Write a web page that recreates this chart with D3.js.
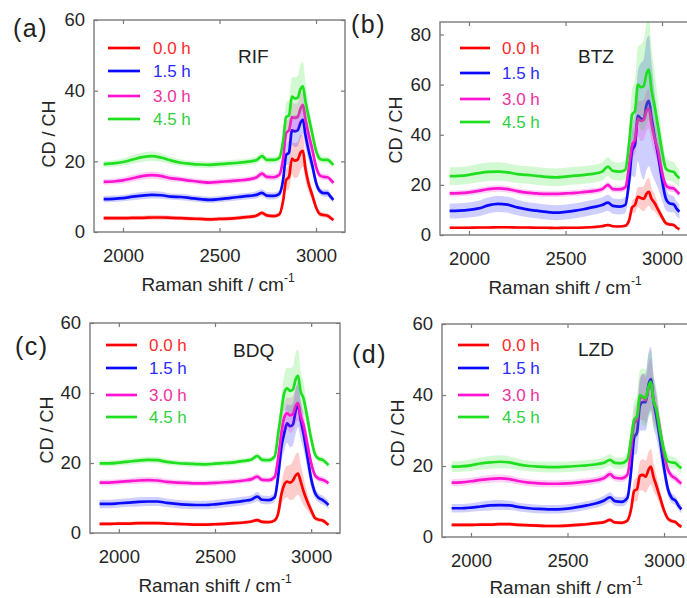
<!DOCTYPE html>
<html>
<head>
<meta charset="utf-8">
<script src="https://cdn.jsdelivr.net/npm/d3@7"></script>
<style>
  body { margin: 0; background: #fff; }
  svg { display: block; font-family: "Liberation Sans", Arial, sans-serif; }
</style>
</head>
<body>
<svg id="fig" width="687" height="598"></svg>
<script>
// Raman shift sample positions (cm^-1) shared by every spectrum
const wavenumbers = [1900, 1950, 2000, 2050, 2100, 2150, 2200, 2250, 2300, 2350,
  2400, 2450, 2500, 2550, 2600, 2650, 2690, 2720, 2745, 2780,
  2810, 2830, 2845, 2860, 2875, 2890, 2905, 2920, 2932, 2945,
  2960, 2980, 3000, 3020, 3040, 3060, 3075, 3090];

const times = ["0.0 h", "1.5 h", "3.0 h", "4.5 h"];
const drugs = ["RIF", "BTZ", "BDQ", "LZD"];
const panelTags = ["(a)", "(b)", "(c)", "(d)"];
const xTicks = [2000, 2500, 3000];
const yTicks60 = [0, 20, 40, 60];
const yTicks80 = [0, 20, 40, 60, 80];

// Mean CD/CH ratio per incubation time (rows: 0.0, 1.5, 3.0, 4.5 h)
const rifMean = [
  [3.9,3.9,3.9,4.0,4.0,4.1,4.1,4.0,3.9,3.8,3.7,3.6,3.7,3.8,4.0,4.3,4.6,5.4,4.7,4.5,5.0,9.0,14.7,15.6,20.8,20.2,20.5,22.5,23.0,18.0,14.0,10.5,7.0,5.1,4.8,4.6,4.0,3.4],
  [9.3,9.4,9.6,10.0,10.3,10.5,10.4,10.0,9.9,9.6,9.3,9.1,9.3,9.6,9.9,10.2,10.5,11.1,10.3,10.2,10.8,15.0,21.8,22.5,28.8,28.5,28.8,31.0,31.8,27.5,23.5,19.0,14.0,11.6,11.0,11.0,10.0,9.1],
  [14.2,14.3,14.6,15.2,15.8,16.1,15.8,15.2,14.9,14.5,14.2,14.0,14.2,14.4,14.6,14.9,15.4,16.5,15.6,15.5,16.2,21.0,28.0,28.8,32.5,32.3,32.6,35.0,36.0,32.0,28.0,23.5,18.5,16.0,15.6,15.5,14.8,13.9],
  [19.2,19.4,19.8,20.5,21.2,21.5,21.0,20.2,19.6,19.3,19.1,19.0,19.2,19.4,19.6,19.9,20.3,21.5,20.4,20.4,21.0,26.0,32.5,33.0,38.3,37.8,38.0,40.5,41.2,37.0,33.0,28.0,23.0,20.7,20.4,20.4,19.8,19.0]
];
const rifStd = [
  [0.6,0.6,0.6,0.6,0.6,0.7,0.7,0.6,0.6,0.6,0.6,0.6,0.6,0.6,0.6,0.6,0.6,0.7,0.6,0.6,0.7,1.5,3.0,3.5,4.5,5.0,5.0,5.0,4.5,3.5,2.5,1.5,1.0,0.8,0.7,0.7,0.6,0.6],
  [0.9,0.9,0.9,1.0,1.0,1.0,1.0,0.9,0.9,0.9,0.9,0.9,0.9,0.9,0.9,0.9,1.0,1.0,1.0,1.0,1.0,1.5,3.0,3.5,4.0,4.5,4.5,4.5,4.0,3.5,3.0,2.0,1.3,1.0,1.0,1.0,0.9,0.9],
  [0.8,0.8,0.9,1.0,1.0,1.0,1.0,0.9,0.8,0.8,0.8,0.8,0.8,0.8,0.8,0.8,0.9,1.0,0.9,0.9,1.0,1.5,3.0,3.5,4.0,4.0,4.0,4.0,3.5,3.0,2.5,1.8,1.2,1.0,0.9,0.9,0.8,0.8],
  [0.9,0.9,1.0,1.2,1.3,1.3,1.2,1.0,0.9,0.9,0.9,0.9,0.9,0.9,0.9,0.9,1.0,1.1,1.0,1.0,1.2,2.0,4.0,4.5,5.5,6.0,6.0,7.0,7.0,5.5,4.0,2.5,1.5,1.2,1.0,1.0,0.9,0.9]
];

const btzMean = [
  [2.9,2.9,2.9,3.0,3.0,3.1,3.1,3.0,3.0,2.9,2.9,2.8,2.9,2.9,3.0,3.2,3.5,4.0,3.5,3.4,3.7,6.0,11.0,12.0,15.2,14.8,14.4,16.5,17.2,14.5,13.0,10.0,7.2,4.7,4.2,4.0,3.0,2.3],
  [9.6,9.7,10.0,10.6,11.8,12.4,12.1,11.0,10.2,9.7,9.2,8.9,9.2,9.7,10.4,11.2,12.0,12.9,11.6,11.3,12.0,22.0,33.5,36.0,47.5,46.5,46.0,52.0,53.5,47.0,40.0,31.5,22.0,14.5,12.6,12.3,10.5,9.3],
  [16.6,16.7,17.0,17.6,18.3,18.6,18.3,17.5,16.9,16.6,16.4,16.4,16.6,16.8,17.2,17.6,18.3,20.0,18.3,18.2,19.0,28.0,36.0,38.0,46.5,45.5,46.0,49.5,50.5,44.5,39.0,33.5,25.0,19.8,18.8,18.6,17.5,16.4],
  [23.5,23.6,24.0,24.7,25.2,25.3,25.0,24.3,24.0,23.6,23.2,23.0,23.3,23.7,24.0,24.5,25.3,27.3,25.6,25.3,26.0,37.0,48.0,49.5,60.0,59.0,59.5,64.5,66.0,58.0,52.0,43.0,33.5,26.5,25.5,25.2,23.8,22.6]
];
const btzStd = [
  [0.5,0.5,0.5,0.5,0.5,0.5,0.5,0.5,0.5,0.5,0.5,0.5,0.5,0.5,0.5,0.5,0.5,0.6,0.5,0.5,0.6,1.0,2.5,3.0,4.0,4.5,5.0,5.5,5.5,4.5,3.5,2.5,1.5,0.9,0.7,0.7,0.6,0.5],
  [3.0,3.0,3.0,3.1,3.2,3.2,3.2,3.1,3.0,3.0,3.0,3.0,3.0,3.0,3.0,3.0,3.1,3.2,3.1,3.1,3.2,5.0,10.0,13.0,18.0,22.0,24.0,26.0,26.0,22.0,18.0,13.0,8.0,4.5,3.5,3.2,3.0,3.0],
  [1.2,1.2,1.2,1.2,1.3,1.3,1.3,1.2,1.2,1.2,1.2,1.2,1.2,1.2,1.2,1.2,1.2,1.3,1.2,1.2,1.3,3.0,5.0,6.0,7.0,8.0,8.0,8.0,8.0,7.0,6.0,4.5,3.0,1.8,1.5,1.4,1.2,1.2],
  [3.5,3.5,3.5,3.6,3.7,3.7,3.6,3.5,3.5,3.5,3.5,3.5,3.5,3.5,3.5,3.5,3.6,3.8,3.6,3.6,3.8,6.0,10.0,12.0,15.0,17.0,18.0,20.0,20.0,17.0,14.0,10.0,6.5,4.5,4.0,4.0,3.5,3.5]
];

const bdqMean = [
  [2.6,2.6,2.7,2.7,2.8,2.8,2.8,2.7,2.6,2.5,2.4,2.4,2.5,2.6,2.8,3.0,3.3,3.7,3.2,3.1,3.6,6.0,11.0,13.8,14.7,14.4,15.0,16.5,17.0,14.8,12.0,9.0,6.5,4.3,3.8,3.6,3.0,2.3],
  [8.3,8.3,8.5,8.7,8.9,9.0,9.0,8.6,8.3,8.1,8.0,8.0,8.2,8.5,8.8,9.2,9.6,10.4,9.5,9.4,10.2,17.0,24.5,28.5,31.3,30.5,31.0,35.0,36.8,32.5,28.5,22.0,15.5,11.5,10.0,9.4,8.8,8.0],
  [14.4,14.4,14.6,14.8,15.0,15.1,15.0,14.6,14.4,14.3,14.2,14.2,14.3,14.5,14.7,15.0,15.4,16.1,15.2,15.1,16.0,22.0,28.5,33.0,34.2,33.6,34.0,36.5,37.2,33.5,31.0,25.5,20.0,16.5,15.5,15.2,14.8,14.2],
  [19.9,19.9,20.1,20.4,20.7,20.9,20.8,20.3,20.0,19.8,19.7,19.6,19.8,20.0,20.2,20.6,21.0,22.0,20.9,20.8,21.8,29.0,34.7,40.0,41.3,40.6,41.0,44.0,44.9,40.5,38.5,33.0,27.0,22.5,21.2,20.9,20.2,19.4]
];
const bdqStd = [
  [0.5,0.5,0.5,0.5,0.5,0.5,0.5,0.5,0.5,0.5,0.5,0.5,0.5,0.5,0.5,0.5,0.5,0.6,0.5,0.5,0.6,1.5,3.0,4.0,4.5,5.0,5.5,6.0,6.0,5.0,4.0,2.5,1.5,0.8,0.6,0.6,0.5,0.5],
  [1.2,1.2,1.2,1.2,1.3,1.3,1.3,1.2,1.2,1.2,1.2,1.2,1.2,1.2,1.2,1.2,1.2,1.3,1.2,1.2,1.3,2.5,4.0,5.0,5.5,6.0,6.0,6.5,6.5,5.5,4.5,3.5,2.5,1.6,1.3,1.3,1.2,1.2],
  [0.8,0.8,0.8,0.8,0.9,0.9,0.9,0.8,0.8,0.8,0.8,0.8,0.8,0.8,0.8,0.8,0.8,0.9,0.8,0.8,0.9,2.0,3.5,4.0,4.5,5.0,5.0,5.0,5.0,4.5,3.5,2.5,1.5,1.0,0.9,0.9,0.8,0.8],
  [0.8,0.8,0.8,0.9,0.9,0.9,0.9,0.8,0.8,0.8,0.8,0.8,0.8,0.8,0.8,0.8,0.8,0.9,0.8,0.8,0.9,2.5,4.0,5.0,6.0,6.5,6.5,7.5,7.5,6.0,4.5,3.0,1.8,1.1,0.9,0.9,0.8,0.8]
];

const lzdMean = [
  [3.4,3.4,3.4,3.5,3.5,3.6,3.6,3.4,3.3,3.2,3.1,3.1,3.2,3.4,3.6,3.9,4.2,4.8,4.1,4.0,4.6,8.0,13.0,13.5,17.2,17.5,17.0,19.0,19.8,17.0,14.5,11.0,7.5,5.2,4.5,4.2,3.4,2.9],
  [8.1,8.1,8.3,8.6,8.9,9.0,8.9,8.4,8.1,7.9,7.8,7.8,8.0,8.4,8.9,9.5,10.3,11.2,10.1,9.9,11.0,19.0,28.0,29.5,37.0,38.0,38.0,43.0,44.5,38.5,34.0,27.0,19.5,13.5,11.0,10.2,8.8,7.8],
  [15.3,15.4,15.7,16.1,16.4,16.5,16.3,15.7,15.3,15.1,15.0,15.0,15.1,15.3,15.6,16.0,16.6,17.7,16.7,16.5,17.5,25.0,32.0,33.0,39.0,39.5,38.5,42.0,43.3,38.5,36.0,30.0,23.5,19.0,17.2,16.5,15.7,15.1],
  [19.8,19.9,20.2,20.7,21.0,21.2,21.0,20.4,20.0,19.8,19.7,19.7,19.8,20.0,20.2,20.5,20.9,21.7,20.9,20.8,21.8,28.0,33.0,34.0,40.0,39.5,39.1,42.5,43.7,38.5,36.0,29.5,24.5,21.3,21.0,20.8,20.0,19.4]
];
const lzdStd = [
  [0.5,0.5,0.5,0.5,0.5,0.5,0.5,0.5,0.5,0.5,0.5,0.5,0.5,0.5,0.5,0.5,0.5,0.6,0.5,0.5,0.6,1.5,3.0,3.5,4.0,4.5,4.5,5.0,5.0,4.0,3.0,2.0,1.2,0.8,0.6,0.6,0.5,0.5],
  [1.2,1.2,1.2,1.3,1.4,1.4,1.3,1.2,1.2,1.2,1.2,1.2,1.2,1.2,1.2,1.2,1.3,1.4,1.3,1.3,1.4,3.0,5.0,6.0,7.0,8.0,8.0,9.0,9.0,7.5,6.0,4.5,3.0,1.8,1.4,1.3,1.2,1.2],
  [1.0,1.0,1.0,1.1,1.1,1.1,1.1,1.0,1.0,1.0,1.0,1.0,1.0,1.0,1.0,1.0,1.0,1.1,1.0,1.0,1.1,2.5,4.0,5.0,6.0,6.5,6.5,7.0,7.0,6.0,5.0,3.5,2.2,1.4,1.1,1.1,1.0,1.0],
  [1.5,1.5,1.6,1.7,1.8,1.8,1.7,1.6,1.5,1.5,1.5,1.5,1.5,1.5,1.5,1.5,1.6,1.7,1.6,1.6,1.7,3.0,5.0,6.0,7.0,8.0,8.0,9.0,9.0,7.5,6.0,4.5,3.0,2.0,1.7,1.6,1.5,1.5]
];

// Series colours (line, legend text)
const lineColors = ["#ff0000", "#0a0aff", "#ff14d2", "#1ee01e"];
const textColors = ["#ff2a2a", "#2a2aff", "#f0329c", "#30d040"];

// Panel frames on the page
const panels = [
  { mean: rifMean, std: rifStd, ymax: 60, yTicks: yTicks60,
    box: { l: 94, r: 345, t: 20, b: 232 }, tag: [13, 37], name: [238, 63],
    legend: { x0: 108, x1: 140, tx: 153, ys: [48, 71, 96, 119] },
    xLabel: [218, 291], yLabel: [55, 134] },
  { mean: btzMean, std: btzStd, ymax: 85, yTicks: yTicks80,
    box: { l: 440, r: 691, t: 22, b: 235 }, tag: [351, 33], name: [578, 63],
    legend: { x0: 460, x1: 490, tx: 502, ys: [48, 73, 99, 122] },
    xLabel: [565, 294], yLabel: [402, 130] },
  { mean: bdqMean, std: bdqStd, ymax: 60, yTicks: yTicks60,
    box: { l: 90, r: 340, t: 323, b: 533 }, tag: [15, 355], name: [233, 357],
    legend: { x0: 106, x1: 137, tx: 149, ys: [345, 368, 395, 417] },
    xLabel: [215, 592], yLabel: [53, 430] },
  { mean: lzdMean, std: lzdStd, ymax: 60, yTicks: yTicks60,
    box: { l: 442, r: 693, t: 324, b: 537 }, tag: [352, 363], name: [578, 356],
    legend: { x0: 458, x1: 489, tx: 502, ys: [345, 368, 395, 417] },
    xLabel: [566, 594], yLabel: [404, 433] }
];

const svg = d3.select("#fig");
const frameColor = "#7a7a7a";
const tickTextColor = "#262626";

panels.forEach((p, pi) => {
  const { l, r, t, b } = p.box;
  const x = d3.scaleLinear().domain([1850, 3150]).range([l, r]);
  const y = d3.scaleLinear().domain([0, p.ymax]).range([b, t]);
  const g = svg.append("g");

  const clipId = "clip" + pi;
  svg.append("clipPath").attr("id", clipId)
    .append("rect").attr("x", l).attr("y", t).attr("width", r - l).attr("height", b - t);

  const plot = g.append("g").attr("clip-path", `url(#${clipId})`);

  const area = d3.area()
    .x(d => x(d.w)).y0(d => y(d.m - d.s)).y1(d => y(d.m + d.s))
    .curve(d3.curveMonotoneX);
  const line = d3.line()
    .x(d => x(d.w)).y(d => y(d.m))
    .curve(d3.curveMonotoneX);

  p.mean.forEach((vals, si) => {
    const pts = wavenumbers.map((w, i) => ({ w, m: vals[i], s: p.std[si][i] }));
    plot.append("path").attr("d", area(pts))
      .attr("fill", lineColors[si]).attr("fill-opacity", 0.2).attr("stroke", "none");
    plot.append("path").attr("d", line(pts))
      .attr("fill", "none").attr("stroke", lineColors[si])
      .attr("stroke-width", 2.7).attr("stroke-linejoin", "round");
  });

  // Axes with inward ticks on all four sides
  const tickLen = 4;
  const ax = g.append("g").attr("transform", `translate(0,${b})`)
    .call(d3.axisBottom(x).tickValues(xTicks).tickSizeInner(-tickLen).tickSizeOuter(0).tickPadding(17).tickFormat(d3.format("d")));
  const axTop = g.append("g").attr("transform", `translate(0,${t})`)
    .call(d3.axisTop(x).tickValues(xTicks).tickSizeInner(-tickLen).tickSizeOuter(0).tickFormat(""));
  const ay = g.append("g").attr("transform", `translate(${l},0)`)
    .call(d3.axisLeft(y).tickValues(p.yTicks).tickSizeInner(-tickLen).tickSizeOuter(0).tickPadding(9).tickFormat(d3.format("d")));
  const ayR = g.append("g").attr("transform", `translate(${r},0)`)
    .call(d3.axisRight(y).tickValues(p.yTicks).tickSizeInner(-tickLen).tickSizeOuter(0).tickFormat(""));
  [ax, axTop, ay, ayR].forEach(a => {
    a.select(".domain").remove();
    a.selectAll(".tick line").attr("stroke", frameColor).attr("stroke-width", 1.2);
    a.selectAll(".tick text").attr("fill", tickTextColor)
      .attr("font-size", 18.5).attr("font-family", "'Liberation Sans', Arial, sans-serif");
  });

  g.append("rect").attr("x", l).attr("y", t).attr("width", r - l).attr("height", b - t)
    .attr("fill", "none").attr("stroke", frameColor).attr("stroke-width", 1.4);

  // Legend
  times.forEach((lab, si) => {
    const ly = p.legend.ys[si];
    g.append("line").attr("x1", p.legend.x0).attr("x2", p.legend.x1)
      .attr("y1", ly).attr("y2", ly)
      .attr("stroke", lineColors[si]).attr("stroke-width", 2.7);
    g.append("text").attr("x", p.legend.tx).attr("y", ly + 6)
      .attr("font-size", 17).attr("fill", textColors[si]).text(lab);
  });

  // Drug name
  g.append("text").attr("x", p.name[0]).attr("y", p.name[1])
    .attr("font-size", 19).attr("fill", "#222").text(drugs[pi]);

  // Panel tag
  g.append("text").attr("x", p.tag[0]).attr("y", p.tag[1])
    .attr("font-size", 25).attr("fill", "#222").attr("letter-spacing", 1.5).text(panelTags[pi]);

  // Axis titles
  const xl = g.append("text").attr("x", p.xLabel[0]).attr("y", p.xLabel[1])
    .attr("text-anchor", "middle").attr("font-size", 19).attr("fill", "#262626");
  xl.append("tspan").text("Raman shift / cm");
  xl.append("tspan").attr("font-size", 12).attr("dy", -9).text("-1");

  g.append("text")
    .attr("transform", `translate(${p.yLabel[0]},${p.yLabel[1]}) rotate(-90)`)
    .attr("text-anchor", "middle").attr("font-size", 18).attr("fill", "#262626")
    .text("CD / CH");
});
</script>
</body>
</html>
